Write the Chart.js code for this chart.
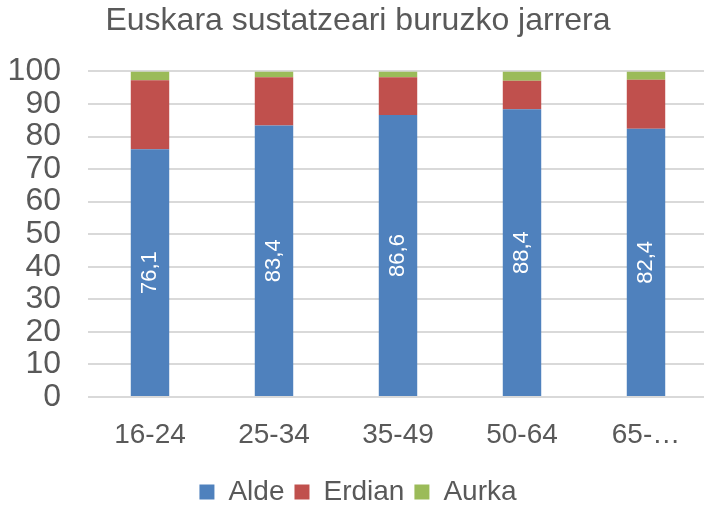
<!DOCTYPE html>
<html>
<head>
<meta charset="utf-8">
<script src="https://cdn.jsdelivr.net/npm/chart.js@4"></script>
<style>
    html, body { margin: 0; padding: 0; background: #fff; overflow: hidden; }
    #wrap { width: 708px; height: 508px; }
</style>
</head>
<body>
<div id="wrap"><canvas id="chart"></canvas></div>
<script>
// datuak
let categories = ['16-24', '25-34', '35-49', '50-64', '65-…'];
let alde = [76.1, 83.4, 86.6, 88.4, 82.4];
let erdian = [21.2, 14.8, 11.6, 8.7, 15.0];
let aurka = [2.7, 1.8, 1.8, 2.9, 2.6];
let yTicks = [0, 10, 20, 30, 40, 50, 60, 70, 80, 90, 100];

let fontFamily = '"Liberation Sans", Arial, sans-serif';

// Alde balioak barraren barruan, bertikalki
const barLabels = {
    id: 'barLabels',
    afterDatasetsDraw(chart) {
        let ctx = chart.ctx;
        let meta = chart.getDatasetMeta(0);
        ctx.save();
        ctx.fillStyle = '#ffffff';
        ctx.font = '22px ' + fontFamily;
        ctx.textAlign = 'center';
        ctx.textBaseline = 'middle';
        for (let i = 0; i < meta.data.length; i++) {
            let bar = meta.data[i];
            let cy = (bar.y + bar.base) / 2;
            ctx.save();
            ctx.translate(bar.x, cy);
            ctx.rotate(-Math.PI / 2);
            ctx.fillText(alde[i].toFixed(1).replace('.', ','), 0, 0);
            ctx.restore();
        }
        ctx.restore();
    }
};

let ctx = document.getElementById('chart').getContext('2d');
let chart = new Chart(ctx, {
    type: 'bar',
    data: {
        labels: categories,
        datasets: [
            { label: 'Alde', data: alde, backgroundColor: '#4f81bd' },
            { label: 'Erdian', data: erdian, backgroundColor: '#c0504d' },
            { label: 'Aurka', data: aurka, backgroundColor: '#9bbb59' }
        ]
    },
    options: {
        responsive: true,
        maintainAspectRatio: false,
        animation: false,
        devicePixelRatio: 1,
        layout: { padding: { left: 8, right: 0, top: 2, bottom: -8 } },
        datasets: {
            bar: { categoryPercentage: 1, barPercentage: 0.31, borderWidth: 0 }
        },
        scales: {
            x: {
                stacked: true,
                grid: { display: false, drawTicks: false },
                border: { display: false },
                afterFit(scale) {
                    scale.height = 71;
                },
                ticks: {
                    color: '#595959',
                    font: { size: 28, family: fontFamily },
                    padding: 21,
                    maxRotation: 0,
                    autoSkip: false
                }
            },
            y: {
                stacked: true,
                min: 0,
                max: 100,
                afterBuildTicks(axis) {
                    axis.ticks = yTicks.map(v => ({ value: v }));
                },
                afterFit(scale) {
                    scale.width = 80;
                },
                grid: { color: '#d9d9d9', lineWidth: 2, drawTicks: false },
                border: { display: false },
                ticks: {
                    color: '#595959',
                    font: { size: 32, family: fontFamily },
                    padding: 27,
                    autoSkip: false,
                    stepSize: 10
                }
            }
        },
        plugins: {
            title: {
                display: true,
                text: 'Euskara sustatzeari buruzko jarrera',
                color: '#595959',
                font: { size: 32, weight: 'normal', family: fontFamily },
                padding: { top: 0, bottom: 31 }
            },
            legend: {
                position: 'bottom',
                labels: {
                    color: '#595959',
                    font: { size: 28, family: fontFamily },
                    boxWidth: 15,
                    boxHeight: 15,
                    padding: 10
                }
            },
            tooltip: { enabled: false }
        }
    },
    plugins: [barLabels]
});
</script>
</body>
</html>
